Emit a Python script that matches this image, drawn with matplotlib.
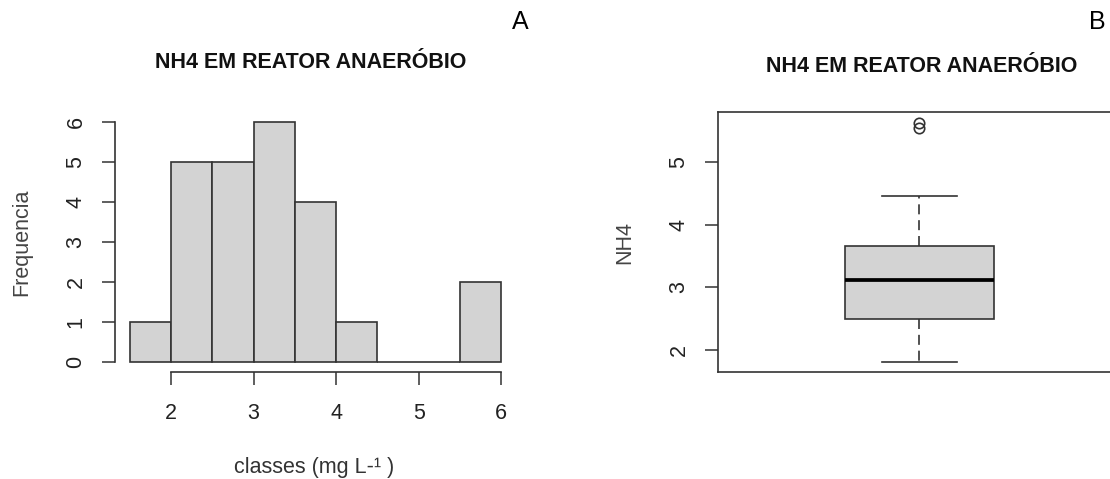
import matplotlib
matplotlib.use("Agg")
import matplotlib.pyplot as plt

plt.rcParams['font.family'] = ['Liberation Sans', 'DejaVu Sans']

# Histogram data (panel A)
bin_edges = [1.5, 2.0, 2.5, 3.0, 3.5, 4.0, 4.5, 5.0, 5.5, 6.0]
counts = [1, 5, 5, 6, 4, 1, 0, 0, 2]
hist_xticks = [2, 3, 4, 5, 6]
hist_yticks = [0, 1, 2, 3, 4, 5, 6]

# Boxplot summary (panel B)
nh4_q1 = 2.49
nh4_median = 3.11
nh4_q3 = 3.66
nh4_whislo = 1.80
nh4_whishi = 4.46
nh4_outliers = [5.63, 5.55]
box_yticks = [2, 3, 4, 5]

title = "NH4 EM REATOR ANAERÓBIO"
fill = "#d3d3d3"
edge = "#333333"
text_c = "#222222"
fs = 15.5

W, H = 1110, 479
fig = plt.figure(figsize=(W / 100, H / 100), dpi=100)


def frac(left, top, right, bottom):
    return [left / W, 1 - bottom / H, (right - left) / W, (bottom - top) / H]


def style_yticks(ax):
    ax.tick_params(axis='y', length=9.5, width=1.1, color=edge, labelsize=fs,
                   pad=11, labelcolor=text_c, labelrotation=90)
    for lab in ax.get_yticklabels():
        lab.set_va('center')


# ---- Panel A: histogram
ax1 = fig.add_axes(frac(115, 112, 516, 372))
widths = [bin_edges[i + 1] - bin_edges[i] for i in range(len(counts))]
ax1.bar(bin_edges[:-1], counts, width=widths, align='edge',
        color=fill, edgecolor=edge, linewidth=1.2)
ax1.set_xlim(1.32, 6.18)
ax1.set_ylim(-0.24, 6.24)
ax1.spines['top'].set_visible(False)
ax1.spines['right'].set_visible(False)
ax1.spines['left'].set_bounds(0, 6)
ax1.spines['bottom'].set_bounds(2, 6)
for s in ('left', 'bottom'):
    ax1.spines[s].set_color(edge)
    ax1.spines[s].set_linewidth(1.2)
ax1.set_xticks(hist_xticks)
ax1.set_yticks(hist_yticks)
ax1.tick_params(axis='x', length=9.5, width=1.1, color=edge, labelsize=fs,
                pad=12.5, labelcolor=text_c)
style_yticks(ax1)

# ---- Panel B: boxplot (right part cut off like the original)
ax2 = fig.add_axes(frac(718, 112, 1120.6, 372))
stats = [dict(med=nh4_median, q1=nh4_q1, q3=nh4_q3,
              whislo=nh4_whislo, whishi=nh4_whishi, fliers=nh4_outliers)]
ax2.bxp(stats, positions=[1], widths=0.37, patch_artist=True,
        boxprops=dict(facecolor=fill, edgecolor=edge, linewidth=1.2),
        medianprops=dict(color='black', linewidth=2.7),
        whiskerprops=dict(color=edge, linewidth=1.2, linestyle=(0, (6, 3.5))),
        capprops=dict(color=edge, linewidth=1.2),
        flierprops=dict(marker='o', markersize=7.5, markerfacecolor='none',
                        markeredgecolor=edge, markeredgewidth=1.2))
ax2.set_xlim(0.5, 1.5)
ax2.set_ylim(1.646, 5.80)
ax2.set_xticks([])
ax2.set_yticks(box_yticks)
for s in ax2.spines.values():
    s.set_color(edge)
    s.set_linewidth(1.2)
style_yticks(ax2)

# ---- Axis labels
fig.text(314 / W, 1 - 467 / H, "classes (mg L-¹ )", ha='center', va='center',
         fontsize=fs, color='#333333')
fig.text(22 / W, 1 - 242 / H, "Frequencia", ha='center', va='center',
         rotation=90, fontsize=fs, color='#444444')
fig.text(625 / W, 1 - 242 / H, "NH4", ha='center', va='center',
         rotation=90, fontsize=fs, color='#444444')

# ---- Titles and panel letters
fig.text(311 / W, 1 - 62 / H, title, ha='center', va='center',
         fontsize=fs, fontweight='bold', color='#111111')
fig.text(921.5 / W, 1 - 67 / H, title, ha='center', va='center',
         fontsize=fs, fontweight='bold', color='#111111')
fig.text(520 / W, 1 - 22 / H, "A", ha='center', va='center', fontsize=18)
fig.text(1097 / W, 1 - 22 / H, "B", ha='center', va='center', fontsize=18)

fig.savefig("out.png", dpi=100)
